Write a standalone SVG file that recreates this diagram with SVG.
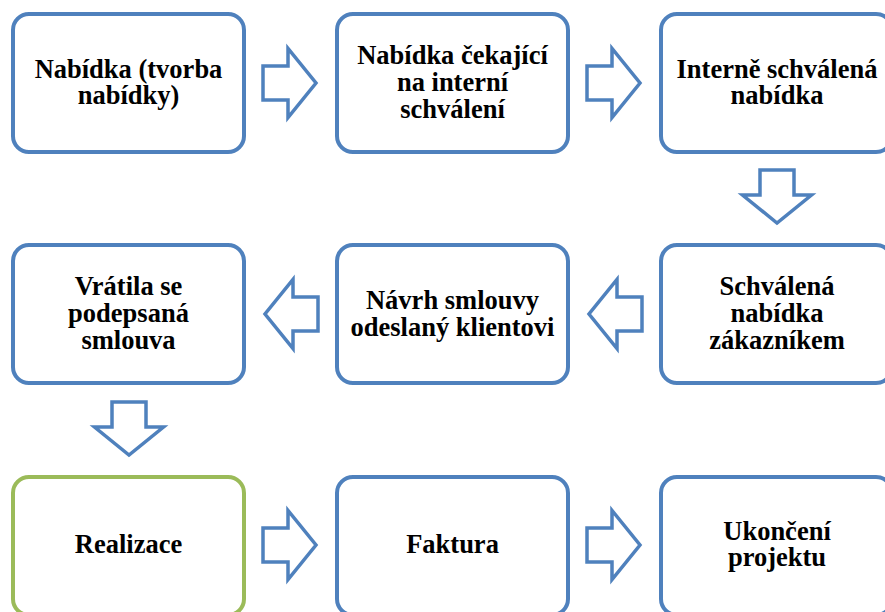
<svg xmlns="http://www.w3.org/2000/svg" xmlns:xlink="http://www.w3.org/1999/xlink" width="885" height="612" viewBox="0 0 885 612">
<style>
.box{fill:#fff;stroke:#4F81BD;stroke-width:4}
.green{stroke:#9BBB59}
.t{font-family:'Liberation Serif','Times New Roman',serif;font-weight:bold;font-size:26.5px;fill:#000;text-anchor:middle}
.arr{fill:#fff;stroke:#4F81BD;stroke-width:3.5;stroke-linejoin:miter}
</style>
<defs>
<path id="arrow" d="M0,-17 H25 V-34.5 L53,0 L25,34.5 V17 H0 Z"/>
</defs>
<rect width="885" height="612" fill="#fff"/>
<g id="connectors">
<use xlink:href="#arrow" class="arr" transform="translate(263,83)"/>
<use xlink:href="#arrow" class="arr" transform="translate(587,83)"/>
<use xlink:href="#arrow" class="arr" transform="translate(777,170) rotate(90)"/>
<use xlink:href="#arrow" class="arr" transform="translate(642,314) scale(-1,1)"/>
<use xlink:href="#arrow" class="arr" transform="translate(318,314) scale(-1,1)"/>
<use xlink:href="#arrow" class="arr" transform="translate(129,402) rotate(90)"/>
<use xlink:href="#arrow" class="arr" transform="translate(263,545)"/>
<use xlink:href="#arrow" class="arr" transform="translate(587,545)"/>
</g>
<g id="n1"><rect class="box" x="13" y="14" width="231" height="138" rx="16"/>
<text class="t" x="128.5" y="77.5">Nabídka (tvorba</text><text class="t" x="128.5" y="104">nabídky)</text></g>
<g id="n2"><rect class="box" x="337" y="14" width="231" height="138" rx="16"/>
<text class="t" x="452.5" y="64">Nabídka čekající</text><text class="t" x="452.5" y="91">na interní</text><text class="t" x="452.5" y="118">schválení</text></g>
<g id="n3"><rect class="box" x="661" y="14" width="231" height="138" rx="16"/>
<text class="t" x="777" y="77.5">Interně schválená</text><text class="t" x="777" y="104">nabídka</text></g>
<g id="n4"><rect class="box" x="661" y="245" width="231" height="138" rx="16"/>
<text class="t" x="777" y="295">Schválená</text><text class="t" x="777" y="322">nabídka</text><text class="t" x="777" y="349">zákazníkem</text></g>
<g id="n5"><rect class="box" x="337" y="245" width="231" height="138" rx="16"/>
<text class="t" x="452.5" y="309">Návrh smlouvy</text><text class="t" x="452.5" y="336">odeslaný klientovi</text></g>
<g id="n6"><rect class="box" x="13" y="245" width="231" height="138" rx="16"/>
<text class="t" x="128.5" y="295">Vrátila se</text><text class="t" x="128.5" y="322">podepsaná</text><text class="t" x="128.5" y="349">smlouva</text></g>
<g id="n7"><rect class="box green" x="13" y="477" width="231" height="138" rx="16"/>
<text class="t" x="128.5" y="553">Realizace</text></g>
<g id="n8"><rect class="box" x="337" y="477" width="231" height="138" rx="16"/>
<text class="t" x="452.5" y="553">Faktura</text></g>
<g id="n9"><rect class="box" x="661" y="477" width="231" height="138" rx="16"/>
<text class="t" x="777" y="540">Ukončení</text><text class="t" x="777" y="566">projektu</text></g>
</svg>
